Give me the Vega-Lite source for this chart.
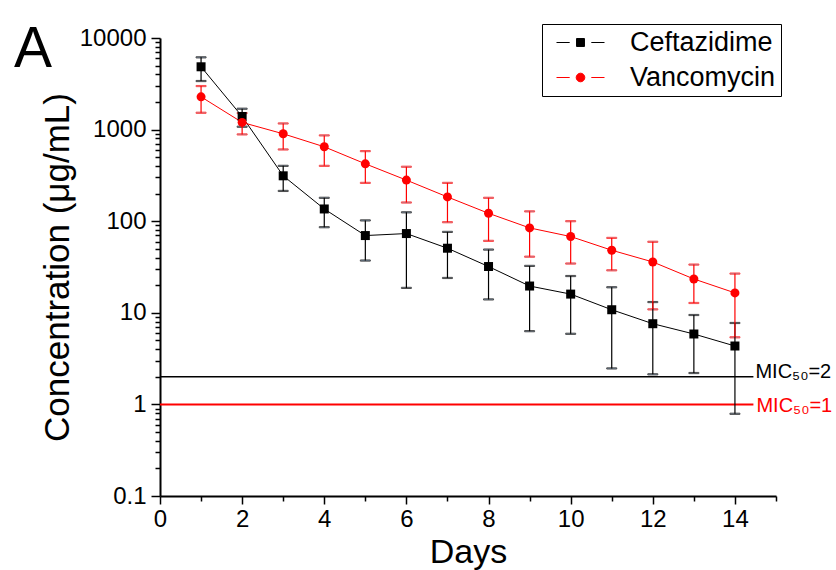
{
  "$schema": "https://vega.github.io/schema/vega-lite/v6.json",
  "width": 616,
  "height": 458,
  "autosize": {"type": "none"},
  "padding": {"left": 160, "top": 38, "right": 60, "bottom": 76},
  "background": "white",
  "config": {
    "font": "Liberation Sans",
    "view": {"stroke": null},
    "axis": {
      "grid": false,
      "domainColor": "black",
      "domainWidth": 2,
      "tickColor": "black",
      "tickWidth": 1.5,
      "labelColor": "black",
      "titleColor": "black",
      "labelFont": "Liberation Sans",
      "titleFont": "Liberation Sans",
      "titleFontWeight": "normal",
      "labelFlush": false
    },
    "legend": {
      "orient": "none",
      "legendX": 382,
      "legendY": -14,
      "labelFontSize": 27,
      "labelFont": "Liberation Sans",
      "labelColor": "black",
      "symbolSize": 576,
      "symbolOpacity": 1,
      "symbolStrokeWidth": 1,
      "symbolOffset": 20,
      "strokeColor": "black",
      "fillColor": "white",
      "padding": 5,
      "rowPadding": 7,
      "labelOffset": 36
    }
  },
  "title": {
    "text": "A",
    "anchor": "start",
    "frame": "group",
    "orient": "top",
    "offset": 0,
    "baseline": "alphabetic",
    "dx": -146,
    "dy": 100,
    "fontSize": 57,
    "fontWeight": "normal",
    "font": "Liberation Sans",
    "color": "black"
  },
  "datasets": {
    "conc": [
      {"drug": "Ceftazidime", "day": 1, "value": 4850, "lo": 3390, "hi": 6150},
      {"drug": "Ceftazidime", "day": 2, "value": 1390, "lo": 1075, "hi": 1690},
      {"drug": "Ceftazidime", "day": 3, "value": 313, "lo": 214, "hi": 402},
      {"drug": "Ceftazidime", "day": 4, "value": 136, "lo": 86, "hi": 180},
      {"drug": "Ceftazidime", "day": 5, "value": 69.7, "lo": 37.2, "hi": 102},
      {"drug": "Ceftazidime", "day": 6, "value": 73.3, "lo": 18.7, "hi": 125},
      {"drug": "Ceftazidime", "day": 7, "value": 50.7, "lo": 24, "hi": 76.4},
      {"drug": "Ceftazidime", "day": 8, "value": 32, "lo": 14, "hi": 49},
      {"drug": "Ceftazidime", "day": 9, "value": 19.6, "lo": 6.3, "hi": 32.5},
      {"drug": "Ceftazidime", "day": 10, "value": 16, "lo": 5.9, "hi": 25.2},
      {"drug": "Ceftazidime", "day": 11, "value": 10.8, "lo": 2.47, "hi": 19},
      {"drug": "Ceftazidime", "day": 12, "value": 7.6, "lo": 2.13, "hi": 13.1},
      {"drug": "Ceftazidime", "day": 13, "value": 5.87, "lo": 2.2, "hi": 9.46},
      {"drug": "Ceftazidime", "day": 14, "value": 4.34, "lo": 0.79, "hi": 7.74},
      {"drug": "Vancomycin", "day": 1, "value": 2280, "lo": 1527, "hi": 2987},
      {"drug": "Vancomycin", "day": 2, "value": 1198, "lo": 886, "hi": 1515},
      {"drug": "Vancomycin", "day": 3, "value": 900, "lo": 607, "hi": 1167},
      {"drug": "Vancomycin", "day": 4, "value": 649, "lo": 402, "hi": 864},
      {"drug": "Vancomycin", "day": 5, "value": 423, "lo": 262, "hi": 582},
      {"drug": "Vancomycin", "day": 6, "value": 281, "lo": 160, "hi": 393},
      {"drug": "Vancomycin", "day": 7, "value": 184, "lo": 97.5, "hi": 262},
      {"drug": "Vancomycin", "day": 8, "value": 122, "lo": 61, "hi": 180},
      {"drug": "Vancomycin", "day": 9, "value": 84.5, "lo": 41, "hi": 128},
      {"drug": "Vancomycin", "day": 10, "value": 68, "lo": 34.5, "hi": 100},
      {"drug": "Vancomycin", "day": 11, "value": 48.2, "lo": 29.1, "hi": 65.7},
      {"drug": "Vancomycin", "day": 12, "value": 35.9, "lo": 10.9, "hi": 59.6},
      {"drug": "Vancomycin", "day": 13, "value": 23.4, "lo": 12.8, "hi": 33.6},
      {"drug": "Vancomycin", "day": 14, "value": 16.5, "lo": 5.4, "hi": 26.8}
    ],
    "mic": [
      {"drug": "Ceftazidime", "mic": 2, "label": "MIC₅₀=2"},
      {"drug": "Vancomycin", "mic": 1, "label": "MIC₅₀=1"}
    ]
  },
  "layer": [
    {
      "data": {"name": "mic"},
      "mark": {"type": "rule"},
      "encoding": {
        "x": {"datum": 0, "type": "quantitative"},
        "x2": {"datum": 14.45},
        "y": {"field": "mic", "type": "quantitative", "title": "Concentration (μg/mL)"},
        "stroke": {"field": "drug", "type": "nominal", "scale": {"domain": ["Vancomycin", "Ceftazidime"], "range": ["#ff0000", "black"]}, "legend": null},
        "strokeWidth": {"field": "drug", "type": "nominal", "scale": {"domain": ["Vancomycin", "Ceftazidime"], "range": [2, 1.5]}, "legend": null}
      }
    },
    {
      "data": {"name": "conc"},
      "mark": {"type": "errorbar", "ticks": true, "size": 10, "thickness": 1.2},
      "encoding": {
        "x": {"field": "day", "type": "quantitative", "title": "Days"},
        "y": {"field": "lo", "type": "quantitative", "title": "Concentration (μg/mL)"},
        "y2": {"field": "hi"},
        "stroke": {"field": "drug", "type": "nominal", "legend": null}
      }
    },
    {
      "data": {"name": "conc"},
      "mark": {"type": "line", "strokeWidth": 1},
      "encoding": {
        "x": {"field": "day", "type": "quantitative", "title": "Days"},
        "y": {"field": "value", "type": "quantitative", "title": "Concentration (μg/mL)"},
        "stroke": {"field": "drug", "type": "nominal", "legend": null}
      }
    },
    {
      "data": {"name": "conc"},
      "transform": [{"filter": "datum.drug === 'Ceftazidime'"}],
      "mark": {"type": "point", "filled": true, "size": 81, "opacity": 1, "shape": "square"},
      "encoding": {
        "x": {
          "field": "day",
          "type": "quantitative",
          "title": "Days",
          "scale": {"domain": [0, 15], "nice": false, "zero": false},
          "axis": {
            "titleFontSize": 34,
            "titlePadding": 4,
            "labelFontSize": 24,
            "labelPadding": 3,
            "values": [0, 1, 2, 3, 4, 5, 6, 7, 8, 9, 10, 11, 12, 13, 14, 15],
            "labelExpr": "datum.value % 2 === 0 ? datum.label : ''",
            "tickSize": {"condition": {"test": "datum.value % 2 === 0", "value": 8}, "value": 5}
          }
        },
        "y": {
          "field": "value",
          "type": "quantitative",
          "title": "Concentration (μg/mL)",
          "scale": {"type": "log", "domain": [0.1, 10000], "nice": false},
          "axis": {
            "titleFontSize": 35,
            "titlePadding": 4,
            "labelFontSize": 24,
            "labelPadding": 5,
            "values": [0.1, 0.2, 0.3, 0.4, 0.5, 0.6, 0.7, 0.8, 0.9, 1, 2, 3, 4, 5, 6, 7, 8, 9, 10, 20, 30, 40, 50, 60, 70, 80, 90, 100, 200, 300, 400, 500, 600, 700, 800, 900, 1000, 2000, 3000, 4000, 5000, 6000, 7000, 8000, 9000, 10000],
            "labelExpr": "abs(log(datum.value)/LN10 - round(log(datum.value)/LN10)) < 0.001 ? format(datum.value, '~g') : ''",
            "tickSize": {"condition": {"test": "abs(log(datum.value)/LN10 - round(log(datum.value)/LN10)) < 0.001", "value": 9}, "value": 5}
          }
        },
        "color": {
          "field": "drug",
          "type": "nominal",
          "scale": {"domain": ["Ceftazidime", "Vancomycin"], "range": ["black", "#ff0000"]},
          "legend": {
            "title": null,
            "symbolType": {"expr": "datum.value === 'Ceftazidime' ? 'M-2,0L-0.9,0M0.9,0L2,0M-0.33,-0.33L0.33,-0.33L0.33,0.33L-0.33,0.33Z' : 'M-2,0L-0.9,0M0.9,0L2,0M0.36,0A0.36,0.36,0,1,1,-0.36,0A0.36,0.36,0,1,1,0.36,0Z'"},
            "symbolStrokeColor": {"expr": "datum.value === 'Ceftazidime' ? 'black' : '#ff0000'"}
          }
        }
      }
    },
    {
      "data": {"name": "conc"},
      "transform": [{"filter": "datum.drug === 'Vancomycin'"}],
      "mark": {"type": "point", "filled": true, "size": 81, "opacity": 1, "shape": "circle"},
      "encoding": {
        "x": {"field": "day", "type": "quantitative", "title": "Days"},
        "y": {"field": "value", "type": "quantitative", "title": "Concentration (μg/mL)"},
        "color": {
          "field": "drug",
          "type": "nominal",
          "legend": {
            "title": null,
            "symbolType": {"expr": "datum.value === 'Ceftazidime' ? 'M-2,0L-0.9,0M0.9,0L2,0M-0.33,-0.33L0.33,-0.33L0.33,0.33L-0.33,0.33Z' : 'M-2,0L-0.9,0M0.9,0L2,0M0.36,0A0.36,0.36,0,1,1,-0.36,0A0.36,0.36,0,1,1,0.36,0Z'"},
            "symbolStrokeColor": {"expr": "datum.value === 'Ceftazidime' ? 'black' : '#ff0000'"}
          }
        }
      }
    },
    {
      "data": {"name": "mic"},
      "transform": [{"filter": "datum.mic === 2"}],
      "mark": {"type": "text", "align": "left", "baseline": "alphabetic", "dx": 2, "dy": 1, "fontSize": 20, "font": "Liberation Sans", "fill": "black"},
      "encoding": {
        "x": {"datum": 14.45, "type": "quantitative"},
        "y": {"field": "mic", "type": "quantitative", "title": "Concentration (μg/mL)"},
        "text": {"field": "label"}
      }
    },
    {
      "data": {"name": "mic"},
      "transform": [{"filter": "datum.mic === 1"}],
      "mark": {"type": "text", "align": "left", "baseline": "alphabetic", "dx": 3, "dy": 8, "fontSize": 20, "font": "Liberation Sans", "fill": "#ff0000"},
      "encoding": {
        "x": {"datum": 14.45, "type": "quantitative"},
        "y": {"field": "mic", "type": "quantitative", "title": "Concentration (μg/mL)"},
        "text": {"field": "label"}
      }
    }
  ]
}
